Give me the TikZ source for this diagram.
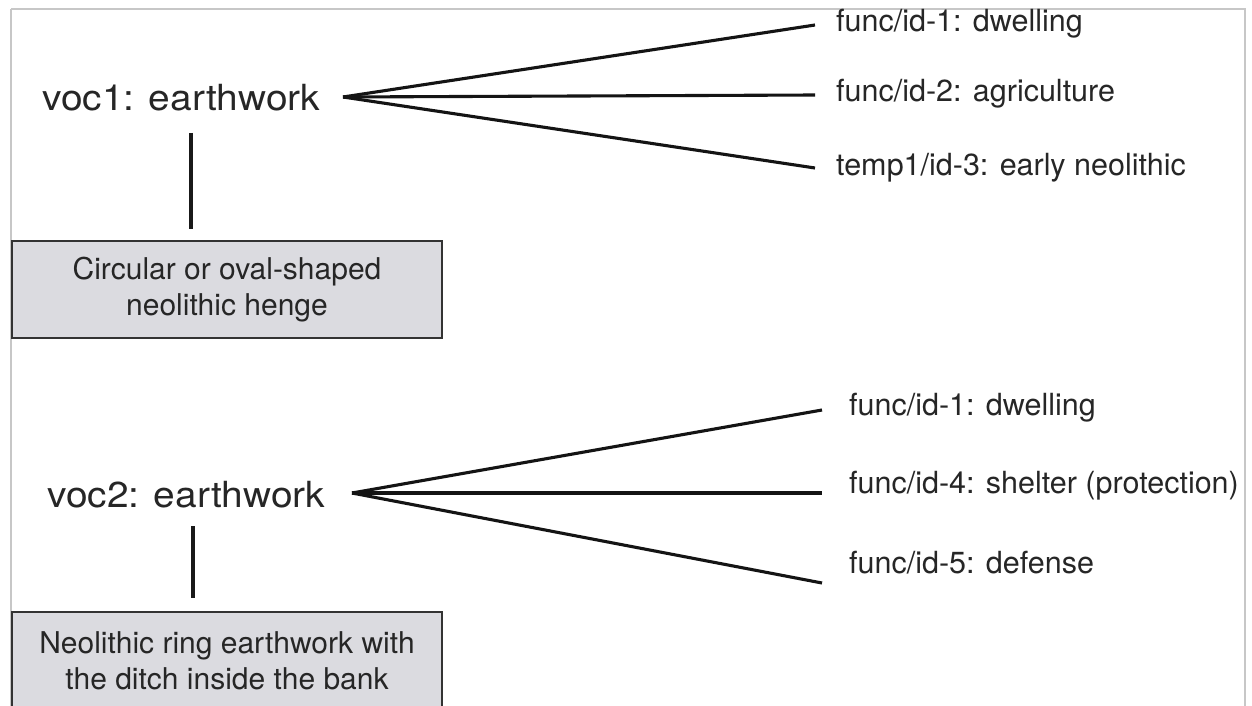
\documentclass[tikz,border=0pt]{standalone}
\usepackage{fontspec}
\setmainfont{TeX Gyre Heros}
\newfontfamily\vocfont{TeX Gyre Heros}[FakeStretch=1.08]
\begin{document}
\begin{tikzpicture}[x=1pt,y=-1pt,
  txt/.style={text=black!85, inner sep=0pt, font=\fontsize{30.5}{36}\selectfont},
  voc/.style={text=black!85, inner sep=0pt, font=\vocfont\fontsize{36}{40}\selectfont},
  defbox/.style={draw=black!80, line width=1.6pt, fill=gray!25!blue!3!white!88!black,
    minimum width=430pt, minimum height=97pt, align=center, text=black!85,
    inner sep=0pt, font=\fontsize{30}{36}\selectfont},
  link/.style={line width=3.2pt, black!90},
  fan/.style={line width=3.1pt, black!92}]
\useasboundingbox (0,0) rectangle (1252,706);
\fill[white] (0,0) rectangle (1252,706);
% outer frame
\draw[black!22, line width=1.2pt] (11,9) -- (1245,9) -- (1245,720) (11,9) -- (11,720);

% first term
\node[voc, anchor=base west] (v1) at (42,111) {voc1: earthwork};
\coordinate (f1) at (343,97);
\node[txt, anchor=base west] (a1) at (836,32) {func/id-1: dwelling};
\node[txt, anchor=base west] (a2) at (836,102) {func/id-2: agriculture};
\node[txt, anchor=base west] (a3) at (836,175) {temp1/id-3: early neolithic};
\foreach \n in {a1,a2,a3}
  \draw[fan] (f1) -- ([xshift=-21pt,yshift=7pt]\n.base west);
\node[defbox] (b1) at (227,289.5) {Circular or oval-shaped\\neolithic henge};
\draw[link] (191,133) -- (191,229);

% second term
\node[voc, anchor=base west] (v2) at (47,507) {voc2: earthwork};
\coordinate (f2) at (352,493);
\node[txt, anchor=base west] (c1) at (849,415) {func/id-1: dwelling};
\node[txt, anchor=base west] (c2) at (849,493) {func/id-4: shelter (protection)};
\node[txt, anchor=base west] (c3) at (849,573) {func/id-5: defense};
\draw[fan] (f2) -- ([xshift=-27pt,yshift=5pt]c1.base west);
\draw[fan] (f2) -- ([xshift=-27pt,yshift=0pt]c2.base west);
\draw[fan] (f2) -- ([xshift=-27pt,yshift=-10pt]c3.base west);
\node[defbox] (b2) at (227,660.5) {Neolithic ring earthwork with\\the ditch inside the bank};
\draw[link] (193,526) -- (193,598);
\end{tikzpicture}
\end{document}
